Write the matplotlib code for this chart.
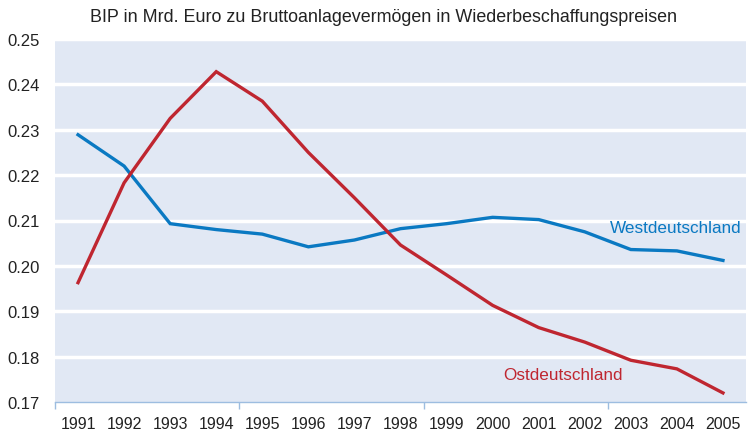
import numpy as np
import matplotlib.pyplot as plt

plt.rcParams['font.family'] = ['Liberation Sans', 'DejaVu Sans']

years = list(range(1991, 2006))
west = [0.2289, 0.2220, 0.2093, 0.2080, 0.2070, 0.2042, 0.2057, 0.2082,
        0.2093, 0.2107, 0.2102, 0.2075, 0.2036, 0.2033, 0.2012]
ost = [0.1963, 0.2183, 0.2325, 0.2428, 0.2363, 0.2250, 0.2150, 0.2046,
       0.1980, 0.1913, 0.1864, 0.1832, 0.1792, 0.1773, 0.1720]
yticks = [0.17, 0.18, 0.19, 0.20, 0.21, 0.22, 0.23, 0.24, 0.25]

blue = '#0a79c2'
red = '#bf2630'

fig = plt.figure(figsize=(7.49, 4.35), dpi=100)
ax = fig.add_axes([55 / 749, 32 / 435, 691 / 749, 363 / 435])
ax.set_facecolor('#e1e8f4')

x = np.arange(len(years))
ax.plot(x, west, color=blue, lw=2.4, solid_joinstyle='miter')
ax.plot(x, ost, color=red, lw=2.4, solid_joinstyle='miter')

ax.set_xlim(-0.5, len(years) - 0.5)
ax.set_ylim(0.17, 0.25)
ax.set_yticks(yticks)
ax.set_yticklabels([f'{v:.2f}' for v in yticks])
for v in yticks[1:]:
    ax.axhline(v, color='white', lw=2.5, zorder=1)

# category labels centred, ticks every 4 categories
ax.set_xticks(x, minor=True)
ax.set_xticklabels([str(y) for y in years], minor=True)
ax.set_xticks(np.arange(-0.5, len(years), 4))
ax.set_xticklabels([])
ax.tick_params(axis='x', which='minor', length=0, pad=10, labelsize=11.5, labelcolor='#222222')
ax.tick_params(axis='x', which='major', length=5, color='#9dbde0', width=1)
ax.tick_params(axis='y', length=0, pad=11, labelsize=12, labelcolor='#222222')

for s in ['top', 'right', 'left']:
    ax.spines[s].set_visible(False)
ax.spines['bottom'].set_color('#9dbde0')
ax.spines['bottom'].set_linewidth(1)

ax.text(14.41, 0.2084, 'Westdeutschland', color=blue, fontsize=12.3, ha='right', va='center')
ax.text(11.83, 0.1760, 'Ostdeutschland', color=red, fontsize=12.3, ha='right', va='center')

fig.text(90 / 749, 1 - 18 / 435, 'BIP in Mrd. Euro zu Bruttoanlagevermögen in Wiederbeschaffungspreisen',
         fontsize=12.9, color='#222222', va='center', ha='left')

fig.savefig('out.png', dpi=100, facecolor='white')
